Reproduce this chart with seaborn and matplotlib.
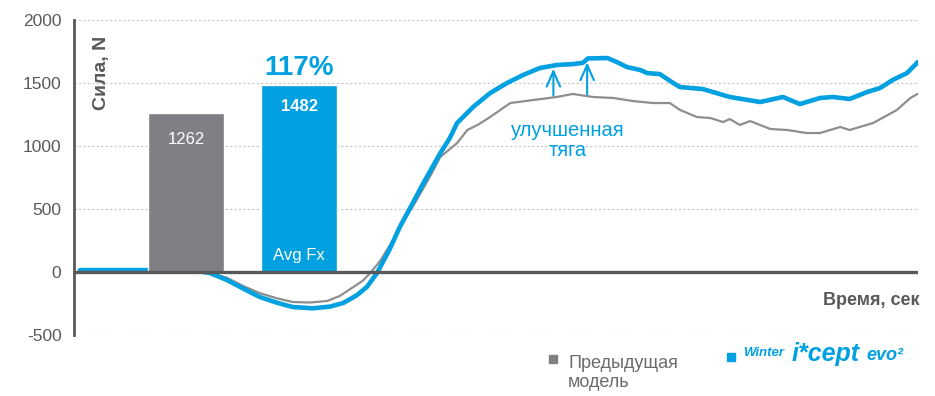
import numpy as np
import pandas as pd
import matplotlib
matplotlib.use("Agg")
import matplotlib.pyplot as plt
from matplotlib.patches import Rectangle
import seaborn as sns

# Time axis (relative units, 0..100) and traction force, N
time_new = [0.7, 9.0, 14.3, 16.1, 18.1, 20.0, 22.0, 24.1, 25.9, 28.3, 30.3, 31.9,
            33.5, 34.7, 35.9, 37.4, 38.6, 40.0, 41.4, 43.4, 44.5, 45.4, 47.3, 49.3,
            51.3, 53.2, 55.2, 57.2, 59.1, 60.3, 60.9, 63.2, 64.3, 65.5, 67.1, 67.9,
            69.4, 71.0, 71.8, 74.5, 77.7, 81.3, 84.0, 86.0, 88.4, 89.9, 91.9, 94.0,
            95.5, 97.0, 98.7, 100.0]
force_new = [15, 15, 10, -8, -63, -130, -198, -245, -278, -288, -275, -246,
             -185, -119, -8, 180, 357, 530, 706, 944, 1060, 1183, 1310, 1420,
             1500, 1563, 1619, 1643, 1650, 1660, 1695, 1698, 1667, 1627, 1603, 1579,
             1571, 1500, 1468, 1452, 1389, 1349, 1389, 1333, 1381, 1389, 1373, 1429,
             1460, 1524, 1579, 1667]

time_old = [0.7, 9.0, 14.3, 16.1, 18.1, 20.0, 22.0, 24.1, 25.9, 28.0, 30.0, 31.5,
            33.1, 34.2, 35.1, 36.3, 37.8, 39.2, 40.6, 42.2, 43.4, 45.4, 46.6, 47.9,
            49.3, 51.7, 54.4, 57.2, 59.1, 61.5, 63.9, 66.2, 68.6, 70.6, 71.8, 73.8,
            75.4, 76.9, 77.7, 78.9, 80.1, 82.5, 84.5, 86.8, 88.4, 90.8, 91.9, 94.7,
            97.5, 99.1, 100.0]
force_old = [15, 15, 10, -10, -45, -110, -167, -210, -238, -242, -230, -190,
             -119, -70, -8, 90, 254, 420, 571, 760, 913, 1024, 1127, 1170,
             1230, 1341, 1365, 1389, 1413, 1389, 1381, 1357, 1341, 1341, 1286, 1230,
             1222, 1190, 1214, 1167, 1198, 1135, 1127, 1103, 1103, 1151, 1127, 1183,
             1286, 1381, 1415]

# Average force Fx
avg_labels = ["1262", "1482"]
avg_values = [1262, 1482]
ratio_label = "117%"

BLUE = "#00a0e1"
GRAY_BAR = "#808084"
GRAY_LINE = "#8e8e8e"
DARK = "#595959"

sns.set_theme(style="white")
plt.rcParams["font.family"] = ["Liberation Sans", "DejaVu Sans"]

fig = plt.figure(figsize=(9.35, 3.96), dpi=100)
ax = fig.add_axes([74 / 935, 1 - 335 / 396, (918 - 74) / 935, (335 - 20) / 396])

df_new = pd.DataFrame({"t": time_new, "F": force_new})
df_old = pd.DataFrame({"t": time_old, "F": force_old})

sns.lineplot(data=df_old, x="t", y="F", ax=ax, color=GRAY_LINE, lw=1.6,
             legend=False, zorder=2)
sns.lineplot(data=df_new, x="t", y="F", ax=ax, color=BLUE, lw=3.3,
             legend=False, zorder=2.1, solid_capstyle="round",
             solid_joinstyle="round")

# Average force bars
bar_x = [13.27, 26.66]
ax.bar(bar_x, avg_values, width=9.0, color=[GRAY_BAR, BLUE], zorder=3)
ax.annotate(avg_labels[0], xy=(bar_x[0], avg_values[0]), xytext=(0, -19),
            textcoords="offset points", ha="center", va="center",
            color="white", fontsize=12, zorder=5)
ax.annotate(avg_labels[1], xy=(bar_x[1], avg_values[1]), xytext=(0, -15),
            textcoords="offset points", ha="center", va="center",
            color="white", fontsize=12, fontweight="bold", zorder=5)
ax.annotate("Avg Fx", xy=(bar_x[1], 0), xytext=(0, 12),
            textcoords="offset points", ha="center", va="center",
            color="white", fontsize=12, zorder=5)
ax.annotate(ratio_label, xy=(bar_x[1], avg_values[1]), xytext=(0, 12.5),
            textcoords="offset points", ha="center", va="center",
            color=BLUE, fontsize=20, fontweight="bold", zorder=5)

# Zero line and grid
ax.axhline(0, color=DARK, lw=2.4, zorder=4)
for yv in [-500, 500, 1000, 1500, 2000]:
    ax.axhline(yv, color="#c4c4c4", lw=0.8, ls=(0, (2, 2)), zorder=1)

ax.set_xlim(0, 100)
ax.set_ylim(-500, 2000)
ax.set_yticks([-500, 0, 500, 1000, 1500, 2000])
ax.set_yticklabels(["-500", "0", "500", "1000", "1500", "2000"])
ax.set_xticks([])
ax.set_xlabel("")
ax.set_ylabel("")
ax.tick_params(axis="y", length=0, pad=9, labelsize=12.5, labelcolor=DARK)
for side in ["top", "right", "bottom"]:
    ax.spines[side].set_visible(False)
ax.spines["left"].set_color(DARK)
ax.spines["left"].set_linewidth(2)

ax.text(3.3, 1580, "Сила, N", rotation=90, ha="center", va="center",
        fontsize=14, fontweight="bold", color=DARK)
ax.text(100.2, -225, "Время, сек", ha="right", va="center",
        fontsize=13, fontweight="bold", color=DARK)

# Improvement arrows between the curves
for ta in [56.8, 60.8]:
    y0 = np.interp(ta, time_old, force_old) + 15
    y1 = np.interp(ta, time_new, force_new) - 25
    ax.annotate("", xy=(ta, y1), xytext=(ta, y0),
                arrowprops=dict(arrowstyle="->,head_length=0.5,head_width=0.22",
                                color=BLUE, lw=1.5, mutation_scale=22,
                                shrinkA=0, shrinkB=0),
                zorder=5)
ax.text(58.5, 1045, "улучшенная\nтяга", ha="center", va="center",
        fontsize=14.5, color=BLUE, linespacing=1.05)

# Legend
def fx(px):
    return px / 935

def fy(py):
    return 1 - py / 396

fig.patches.append(Rectangle((fx(549), fy(363)), 8 / 935, 8 / 396,
                             transform=fig.transFigure, color=GRAY_BAR))
fig.text(fx(568), fy(373), "Предыдущая\nмодель", ha="left", va="center",
         fontsize=13, color="#6b6b6b", linespacing=1.15)

fig.patches.append(Rectangle((fx(727), fy(361)), 8 / 935, 8 / 396,
                             transform=fig.transFigure, color=BLUE))
fig.text(fx(743), fy(356), "Winter", ha="left", va="baseline", fontsize=9.5,
         fontweight="bold", fontstyle="italic", color=BLUE)
fig.text(fx(792), fy(361), "i*cept", ha="left", va="baseline", fontsize=18,
         fontweight="bold", fontstyle="italic", color=BLUE)
fig.text(fx(866), fy(360), "evo²", ha="left", va="baseline", fontsize=13,
         fontweight="bold", fontstyle="italic", color=BLUE)

fig.savefig("out.png", dpi=100)
